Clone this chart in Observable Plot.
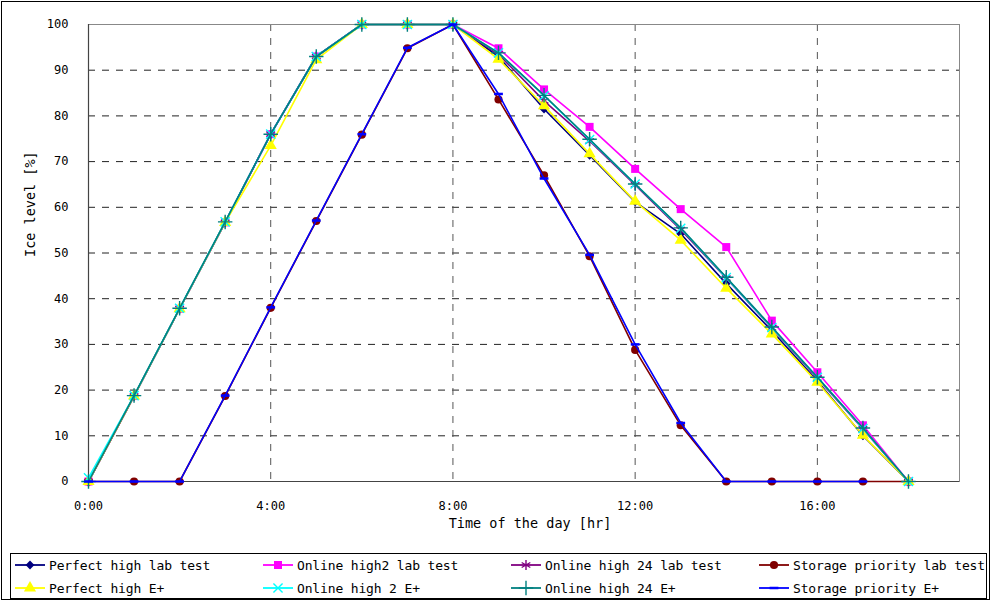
<!DOCTYPE html>
<html>
<head>
<meta charset="utf-8">
<script src="https://cdn.jsdelivr.net/npm/d3@7"></script>
<script src="https://cdn.jsdelivr.net/npm/@observablehq/plot@0.6"></script>
<style>
  html, body { margin: 0; padding: 0; background: #fff; }
  #chart { position: relative; width: 992px; height: 602px; overflow: hidden; background: #fff; font-family: "DejaVu Sans Mono", monospace; }
  #frame { position: absolute; left: 1px; top: 1px; width: 989px; height: 599px; border: 1px solid #000; box-sizing: border-box; pointer-events: none; }
  #plot { position: absolute; left: 0; top: 0; }
  #legend { position: absolute; left: 10px; top: 553px; width: 977px; height: 47px; border: 1px solid #000; border-bottom-width: 2px; box-sizing: border-box; background: #fff; }
  .item { position: absolute; display: flex; align-items: center; font-size: 13px; letter-spacing: -0.15px; color: #000; white-space: nowrap; }
  .item svg { margin-right: 3px; }
</style>
</head>
<body>
<div id="chart">
  <div id="plot"></div>
  <div id="legend"></div>
  <div id="frame"></div>
</div>
<script>
// ---- data ----
const hours = [0,1,2,3,4,5,6,7,8,9,10,11,12,13,14,15,16,17,18];
const xTicks = [0,4,8,12,16];
const xTickLabels = ["0:00","4:00","8:00","12:00","16:00"];
const yTicks = [0,10,20,30,40,50,60,70,80,90,100];

const seriesNames = [
  "Perfect high lab test",
  "Online high2 lab test",
  "Online high 24 lab test",
  "Storage priority lab test",
  "Perfect high E+",
  "Online high 2 E+",
  "Online high 24 E+",
  "Storage priority E+"
];
const perfectHighLab  = [0,18.7,37.8,56.7,76.0,93.0,100,100,100,93.0,81.5,71.4,61.2,54.2,43.3,33.0,22.0,10.0,0];
const onlineHigh2Lab  = [0,18.7,37.8,56.7,76.0,93.0,100,100,100,94.8,85.8,77.6,68.4,59.6,51.3,35.2,23.9,12.3,0];
const onlineHigh24Lab = [0,18.7,37.8,56.7,76.0,93.0,100,100,100,93.5,83.3,74.5,64.9,55.1,44.5,33.6,22.6,11.5,0];
const storageLab      = [0,0,0,18.7,38.0,57.0,75.9,94.8,100,83.6,67.0,49.3,28.8,12.3,0,0,0,0,0];
const perfectHighEp   = [0,18.7,37.8,56.7,73.5,92.3,100,100,100,92.4,82.2,71.7,61.3,52.8,42.3,32.3,21.7,10.1,0];
const onlineHigh2Ep   = [0.8,18.8,37.9,56.8,76.0,93.0,100,100,100,93.8,84.4,74.8,65.1,55.4,44.6,33.7,22.8,11.6,0];
const onlineHigh24Ep  = [0,18.8,37.9,56.8,76.0,93.0,100,100,100,93.8,84.5,74.9,65.1,55.5,44.7,33.8,22.8,11.7,0];
const storageEp       = [0,0,0,18.8,38.1,57.1,76.0,94.9,100,84.8,66.3,49.6,30.0,12.8,0,0,0,0];

const seriesValues = [perfectHighLab, onlineHigh2Lab, onlineHigh24Lab, storageLab,
                      perfectHighEp, onlineHigh2Ep, onlineHigh24Ep, storageEp];
const seriesColors = ["#000080","#FF00FF","#800080","#800000","#FFFF00","#00FFFF","#008080","#0000FF"];

// ---- styles ----
const dashSymbol = { draw(ctx, size) { const w = Math.sqrt(size) * 0.55; ctx.moveTo(-w, 0); ctx.lineTo(w, 0); } };
const seriesSymbols = [d3.symbolDiamond2, d3.symbolSquare, d3.symbolAsterisk, d3.symbolCircle,
                       d3.symbolTriangle, d3.symbolTimes, d3.symbolPlus, dashSymbol];
const symbolSizes = [50, 64, 70, 52, 64, 56, 70, 64];
const symbolStroked = [false, false, true, false, false, true, true, true];

const FONT = "'DejaVu Sans Mono', monospace";

const marks = [];
// grid
marks.push(Plot.ruleY(yTicks.filter(d => d > 0 && d < 100), {stroke: "#222", strokeWidth: 1, strokeDasharray: "7,7"}));
marks.push(Plot.ruleX(xTicks.filter(d => d > 0), {stroke: "#555", strokeWidth: 1, strokeDasharray: "7,7"}));
marks.push(Plot.frame({stroke: "#888", strokeWidth: 1}));
marks.push(Plot.ruleX([0], {stroke: "#444", strokeWidth: 1.2}));
marks.push(Plot.ruleY([0], {stroke: "#444", strokeWidth: 1.2}));

seriesNames.forEach((name, i) => {
  const data = seriesValues[i].map((v, j) => ({hour: hours[j], value: v}));
  marks.push(Plot.line(data, {x: "hour", y: "value", stroke: seriesColors[i], strokeWidth: 1.6}));
  const r = Math.sqrt(symbolSizes[i] / Math.PI);
  if (symbolStroked[i]) {
    marks.push(Plot.dot(data, {x: "hour", y: "value", symbol: seriesSymbols[i], r, fill: "none",
      stroke: seriesColors[i], strokeWidth: i === 7 ? 2.5 : 1.4}));
  } else {
    marks.push(Plot.dot(data, {x: "hour", y: "value", symbol: seriesSymbols[i], r, fill: seriesColors[i], stroke: "none"}));
  }
});

// axis titles
marks.push(Plot.text(["Time of the day [hr]"], {frameAnchor: "bottom", dy: 46, dx: 6, fontSize: 13.5, fontFamily: FONT, fill: "#000"}));
marks.push(Plot.text(["Ice level [%]"], {frameAnchor: "left", dx: -58, dy: 4, rotate: -90, fontSize: 13.5, fontFamily: FONT, fill: "#000"}));

const chart = Plot.plot({
  width: 992,
  height: 550,
  marginLeft: 88,
  marginRight: 33,
  marginTop: 24,
  marginBottom: 69,
  style: {fontFamily: FONT, fontSize: "12px", background: "transparent", color: "#000", overflow: "visible"},
  x: {domain: [0, 19.12], ticks: xTicks, tickFormat: d => xTickLabels[xTicks.indexOf(d)], tickSize: 0, tickPadding: 20, label: null},
  y: {domain: [0, 100], ticks: yTicks, tickSize: 0, tickPadding: 20, label: null},
  marks
});
document.getElementById("plot").appendChild(chart);

// ---- legend ----
const legend = d3.select("#legend");
const colW = 248;
seriesNames.forEach((name, i) => {
  const col = i % 4, row = Math.floor(i / 4);
  const item = legend.append("div").attr("class", "item")
    .style("left", (3 + col * colW) + "px")
    .style("top", (row === 0 ? 3 : 26) + "px");
  const svg = item.append("svg").attr("width", 32).attr("height", 16);
  svg.append("line").attr("x1", 1).attr("x2", 31).attr("y1", 8).attr("y2", 8)
    .attr("stroke", seriesColors[i]).attr("stroke-width", 1.8);
  const p = svg.append("path").attr("transform", "translate(16,8)")
    .attr("d", d3.symbol(seriesSymbols[i], symbolSizes[i])());
  if (symbolStroked[i]) p.attr("fill", "none").attr("stroke", seriesColors[i]).attr("stroke-width", i === 7 ? 2.5 : 1.4);
  else p.attr("fill", seriesColors[i]);
  item.append("span").text(name);
});
</script>
</body>
</html>
